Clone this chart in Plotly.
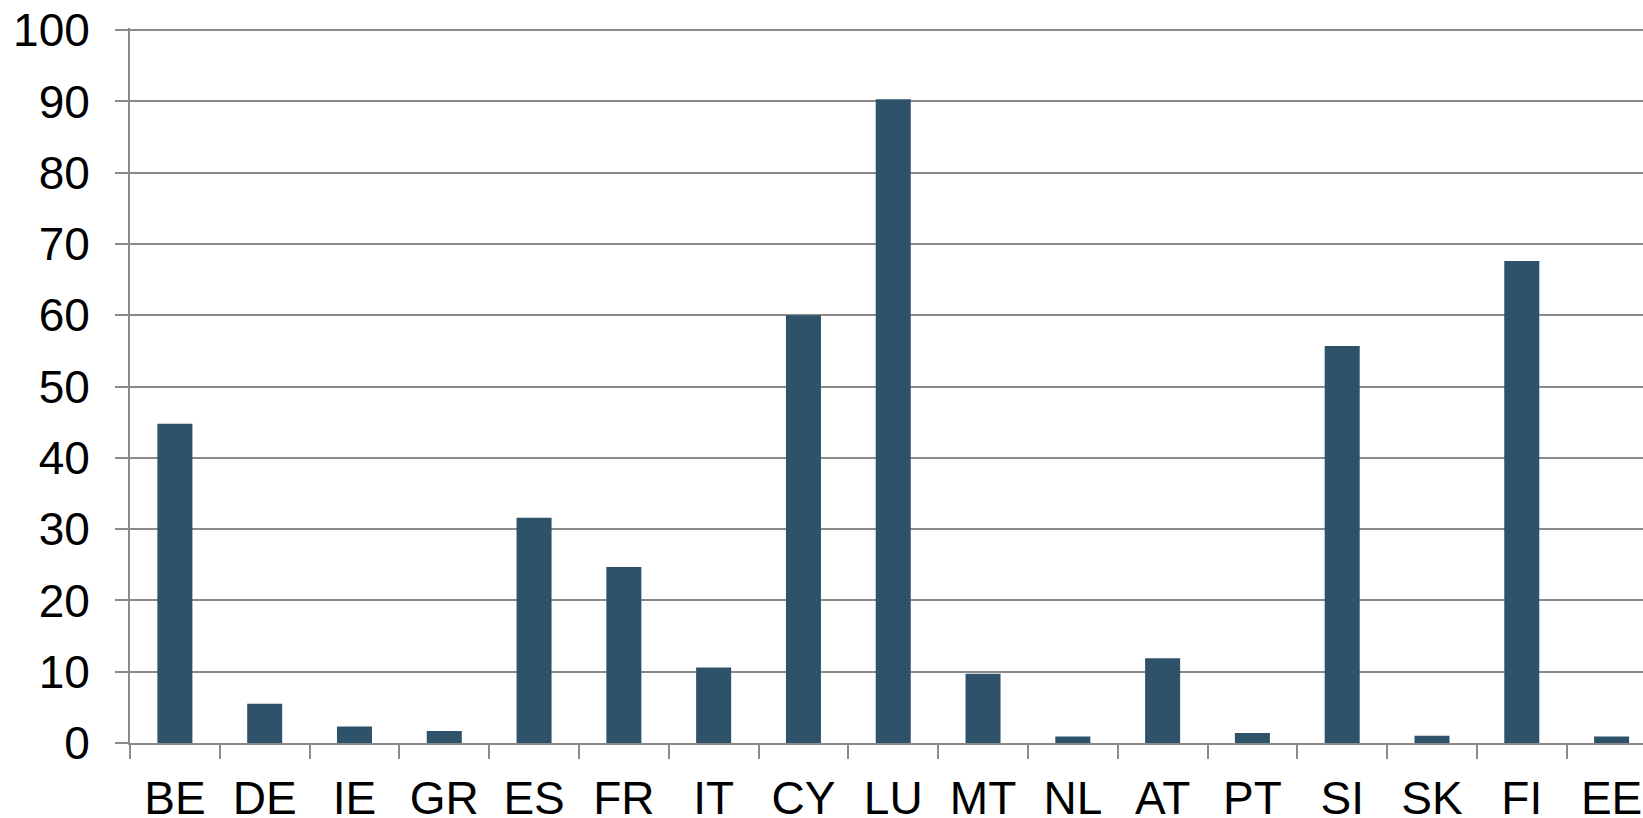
import plotly.graph_objects as go

categories = ["BE", "DE", "IE", "GR", "ES", "FR", "IT", "CY", "LU", "MT",
              "NL", "AT", "PT", "SI", "SK", "FI", "EE"]
values = [44.8, 5.5, 2.3, 1.7, 31.6, 24.7, 10.6, 60.0, 90.3, 9.7,
          0.9, 11.9, 1.4, 55.7, 1.0, 67.6, 0.9]
y_ticks = [0, 10, 20, 30, 40, 50, 60, 70, 80, 90, 100]

bar_color = "#2E526A"
grid_color = "#8A8A8A"

fig = go.Figure(go.Bar(x=categories, y=values, marker=dict(color=bar_color, line=dict(width=0))))

fig.update_layout(
    width=1643, height=818,
    margin=dict(l=130, r=0, t=28, b=75, autoexpand=False),
    paper_bgcolor="white", plot_bgcolor="white",
    bargap=0.61,
    showlegend=False,
    font=dict(family="Liberation Sans, Arial, sans-serif", size=46, color="black"),
)
fig.update_xaxes(
    type="category",
    range=[-0.5, 16.35],
    tickson="boundaries",
    ticks="outside", ticklen=14, tickwidth=2, tickcolor=grid_color,
    showline=True, linecolor=grid_color, linewidth=2,
    showgrid=False, tickangle=0,
    tickfont=dict(size=46, color="black"),
    ticklabelstandoff=14,
    automargin=False,
)
fig.update_yaxes(
    range=[0, 100.3],
    tickvals=y_ticks,
    ticks="outside", ticklen=13, tickwidth=2, tickcolor=grid_color,
    showline=True, linecolor=grid_color, linewidth=2,
    showgrid=True, gridcolor=grid_color, gridwidth=2,
    zeroline=False,
    tickfont=dict(size=46, color="black"),
    ticklabelstandoff=16,
    automargin=False,
)

fig.write_html(
    "out.html",
    config={"displayModeBar": False},
    post_script="document.body.style.margin='0';document.body.style.overflow='hidden';",
)
